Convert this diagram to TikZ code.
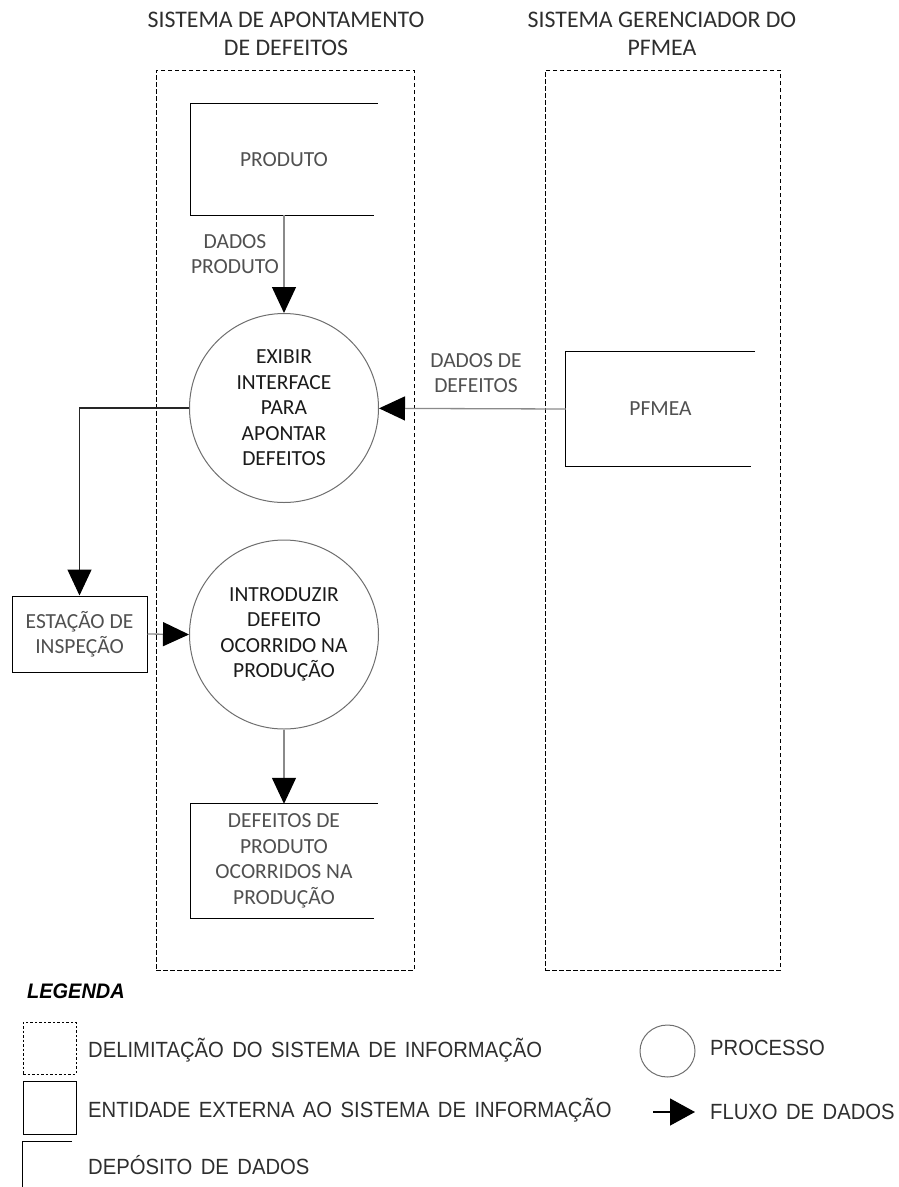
\documentclass[tikz,border=0pt]{standalone}
\usepackage{fontspec}
\setmainfont{Carlito}
\newfontfamily\legfont{Liberation Sans}[FakeStretch=0.92,WordSpace=1.5]
\newfontfamily\legheadfont{Liberation Sans}[FakeStretch=0.95]
\usetikzlibrary{arrows.meta,shapes.geometric}
\definecolor{labelgray}{HTML}{505050}
\definecolor{proctext}{HTML}{1A1A1A}
\definecolor{legtext}{HTML}{2E2E2E}
\definecolor{flowgray}{HTML}{8A8A8A}
\definecolor{circgray}{HTML}{6E6E6E}
\begin{document}
\begin{tikzpicture}[x=1pt,y=-1pt,
  sysbound/.style={draw=black, line width=1pt, dash pattern=on 4.5pt off 2.5pt,
    inner sep=0pt},
  systitle/.style={align=center, inner sep=0pt, text=legtext,
    font=\fontsize{23.8}{28}\selectfont},
  storebox/.style={inner sep=0pt, align=center, text=labelgray,
    font=\fontsize{21.5}{25.5}\selectfont},
  storeline/.style={draw=black, line width=1.3pt},
  proc/.style={circle, draw=circgray, line width=1pt, minimum size=189pt,
    inner sep=0pt, align=center, text=proctext,
    font=\fontsize{21.5}{25.5}\selectfont},
  entity/.style={draw=black, line width=1pt, inner sep=0pt, align=center,
    text=labelgray, font=\fontsize{21.5}{25.5}\selectfont},
  flowlabel/.style={inner sep=0pt, align=center, text=labelgray,
    font=\fontsize{21.5}{25.5}\selectfont},
  flowtip/.tip={Triangle[length=26pt,width=24pt,color=black]},
  flow/.style={-flowtip, draw=flowgray, line width=1.3pt},
  flowdark/.style={-flowtip, draw=black!85, line width=1.3pt},
  legtxt/.style={anchor=west, inner sep=0pt, text=legtext,
    font=\legfont\fontsize{22}{26}\selectfont},
]
\useasboundingbox (0,0) rectangle (899,1187);

% system boundaries and their titles
\node[sysbound, minimum width=258pt, minimum height=900pt] (sysA) at (285,520) {};
\node[sysbound, minimum width=235pt, minimum height=900pt] (sysB) at (662.5,520) {};
\node[systitle] (titleA) at (286,34) {SISTEMA DE APONTAMENTO\\DE DEFEITOS};
\node[systitle] (titleB) at (662,34) {SISTEMA GERENCIADOR DO\\PFMEA};

% data stores (open on the right)
\node[storebox, minimum width=187pt, minimum height=111pt] (prod) at (284,159.5) {PRODUTO};
\draw[storeline] (prod.north east) -- (prod.north west) -- (prod.south west)
  -- ([xshift=-4pt]prod.south east);

\node[storebox, minimum width=189pt, minimum height=114pt] (pfmea) at (660.5,409) {PFMEA};
\draw[storeline] (pfmea.north east) -- (pfmea.north west) -- (pfmea.south west)
  -- ([xshift=-4pt]pfmea.south east);

\node[storebox, minimum width=187pt, minimum height=114pt] (dep) at (284,861)
  {DEFEITOS DE\\PRODUTO\\OCORRIDOS NA\\PRODUÇÃO};
\draw[storeline] (dep.north east) -- (dep.north west) -- (dep.south west)
  -- ([xshift=-4pt]dep.south east);

% processes
\node[proc] (exib) at (284,408) {EXIBIR\\INTERFACE\\PARA\\APONTAR\\DEFEITOS};
\node[proc] (intro) at (284,634.5) {INTRODUZIR\\DEFEITO\\OCORRIDO NA\\PRODUÇÃO};

% external entity
\node[entity, minimum width=135pt, minimum height=76pt] (est) at (79.5,634)
  {ESTAÇÃO DE\\INSPEÇÃO};

% data flows
\draw[flow] (prod.south) -- (exib.north);
\draw[flow] (pfmea.west) -- (exib);
\draw[flowdark] (exib.west) -| (est.north);
\draw[flow] (est.east) -- (intro.west);
\draw[flow] (intro.south) -- (dep.north);

\node[flowlabel] (lblprod) at (235,254) {DADOS\\PRODUTO};
\node[flowlabel] (lbldef) at (476,373) {DADOS DE\\DEFEITOS};

% legend
\node[anchor=west, inner sep=0pt, text=black,
  font=\legheadfont\bfseries\itshape\fontsize{21}{24}\selectfont]
  (leg) at (27,991) {LEGENDA};

\node[draw=black, line width=1pt, dash pattern=on 2.5pt off 2pt, inner sep=0pt,
  minimum width=53pt, minimum height=52pt] (lbound) at (49.5,1048) {};
\node[legtxt] (tbound) at (88,1050) {DELIMITAÇÃO DO SISTEMA DE INFORMAÇÃO};

\node[draw=black, line width=1pt, inner sep=0pt,
  minimum width=53pt, minimum height=53pt] (lent) at (49.5,1107.5) {};
\node[legtxt] (tent) at (88,1110) {ENTIDADE EXTERNA AO SISTEMA DE INFORMAÇÃO};

\node[inner sep=0pt, minimum width=49pt, minimum height=52pt] (lstore) at (47.5,1168) {};
\draw[storeline] (lstore.north east) -- (lstore.north west) -- (lstore.south west);
\node[legtxt] (tstore) at (88,1165) {DEPÓSITO DE DADOS};

\node[ellipse, draw=circgray, line width=1pt, inner sep=0pt,
  minimum width=55pt, minimum height=52pt] (lproc) at (667.5,1051) {};
\node[legtxt] (tproc) at (710,1048) {PROCESSO};

\node[legtxt] (tflow) at (710,1112) {FLUXO DE DADOS};
\coordinate (lflow) at (653,1112);
\draw[-{Triangle[length=25pt,width=27pt,color=black]}, draw=black, line width=1.3pt]
  (lflow) -- ([xshift=-15pt]tflow.west);
\end{tikzpicture}
\end{document}
